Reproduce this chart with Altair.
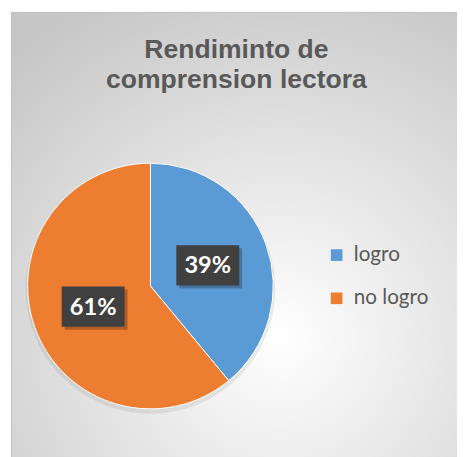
import altair as alt
import pandas as pd

# ---- data ----
categories = ["logro", "no logro"]
values = [39, 61]
colors = ["#5B9BD5", "#ED7D31"]
title_lines = ["Rendiminto de", "comprension lectora"]

df = pd.DataFrame({"categoria": categories, "valor": values,
                   "orden": list(range(len(categories)))})

# ---- layout constants ----
W, H = 457, 449
CX, CY, R = 145, 279, 125
LR = 62
BW, BH = 64, 41

grad = {
    "gradient": "radial",
    "x1": 0.59, "y1": 0.72, "r1": 0,
    "x2": 0.59, "y2": 0.72, "r2": 0.85,
    "stops": [{"offset": 0, "color": "#ffffff"},
              {"offset": 1, "color": "#c6c6c6"}],
}

bg = alt.Chart(pd.DataFrame({"a": [0]})).mark_rect(
    fill=grad, stroke="#bfbfbf", strokeWidth=1
).encode(x=alt.value(3.5), x2=alt.value(W + 10), y=alt.value(0.5), y2=alt.value(H + 10))

base = alt.Chart(df)

shadow = base.mark_arc(radius=R + 2, color="#000000", opacity=0.07).encode(
    theta=alt.Theta("valor:Q", stack=True),
    order=alt.Order("orden:Q"),
    x=alt.value(CX), y=alt.value(CY + 3),
)

pie = base.mark_arc(radius=R, stroke="#ffffff", strokeWidth=1).encode(
    theta=alt.Theta("valor:Q", stack=True),
    order=alt.Order("orden:Q"),
    color=alt.Color(
        "categoria:N",
        scale=alt.Scale(domain=categories, range=colors),
        legend=alt.Legend(
            title=None, orient="none", legendX=324, legendY=237,
            symbolType="square", symbolSize=140, symbolStrokeWidth=0,
            symbolOpacity=1, labelFontSize=21, labelFont="Lato",
            labelColor="#595959", rowPadding=22, labelOffset=7, padding=0,
        ),
    ),
    x=alt.value(CX), y=alt.value(CY),
)

lab_base = base.transform_joinaggregate(
    total="sum(valor)"
).transform_window(
    cum="sum(valor)", sort=[alt.SortField("orden")]
).transform_calculate(
    mid="(datum.cum - datum.valor/2)/datum.total*2*PI",
    px=f"{CX} + {LR}*sin(datum.mid)",
    py=f"{CY} - {LR}*cos(datum.mid)",
    x0=f"datum.px - {BW/2}", x1=f"datum.px + {BW/2}",
    y0=f"datum.py - {BH/2}", y1=f"datum.py + {BH/2}",
    sx0=f"datum.px - {BW/2} + 3", sx1=f"datum.px + {BW/2} + 3",
    sy0=f"datum.py - {BH/2} + 3", sy1=f"datum.py + {BH/2} + 3",
    label="format(datum.valor/datum.total, '.0%')",
)

box_shadow = lab_base.mark_rect(color="#000000", opacity=0.25).encode(
    x=alt.X("sx0:Q", scale=None, axis=None), x2="sx1:Q",
    y=alt.Y("sy0:Q", scale=None, axis=None), y2="sy1:Q",
)
box = lab_base.mark_rect(color="#404040").encode(
    x=alt.X("x0:Q", scale=None, axis=None), x2="x1:Q",
    y=alt.Y("y0:Q", scale=None, axis=None), y2="y1:Q",
)
text = lab_base.mark_text(
    font="Lato", fontWeight="bold", fontSize=24, color="#ffffff",
    align="center", baseline="middle", dy=1,
).encode(
    x=alt.X("px:Q", scale=None, axis=None),
    y=alt.Y("py:Q", scale=None, axis=None),
    text="label:N",
)

chart = alt.layer(bg, shadow, pie, box_shadow, box, text).properties(
    width=W, height=H, padding=0,
    autosize=alt.AutoSizeParams(type="none"),
    title=alt.TitleParams(
        text=title_lines, font="Liberation Sans", fontSize=27,
        fontWeight="bold", color="#595959", anchor="middle",
        frame="group", offset=-83, lineHeight=30, dx=4,
    ),
).configure_view(stroke=None)

chart.save("out.html", embed_options={"renderer": "svg", "actions": False})
